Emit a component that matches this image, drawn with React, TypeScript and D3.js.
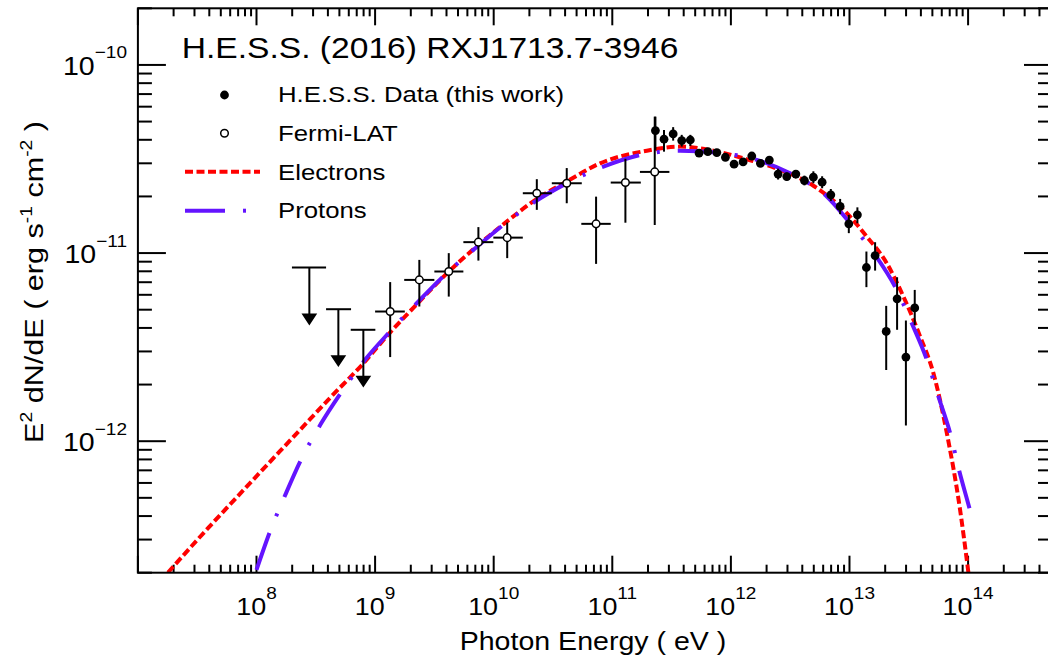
import * as d3 from "d3";

// ---- data (energies in eV, E^2 dN/dE in erg s^-1 cm^-2)

// H.E.S.S. points (filled circles, y errors only)
const hessE = [
  2.31e11, 2.73e11, 3.26e11, 3.85e11, 4.55e11, 5.39e11, 6.39e11, 7.61e11,
  8.99e11, 1.064e12, 1.267e12, 1.5e12, 1.774e12, 2.11e12, 2.5e12, 2.96e12,
  3.53e12, 4.17e12, 4.96e12, 5.88e12, 6.96e12, 8.34e12, 9.87e12, 1.166e13,
  1.389e13, 1.644e13, 2.04e13, 2.52e13, 2.99e13, 3.55e13,
];
const hessF = [
  4.48e-11, 4.03e-11, 4.3e-11, 3.96e-11, 3.99e-11, 3.4e-11, 3.46e-11, 3.42e-11,
  3.23e-11, 2.97e-11, 3.05e-11, 3.28e-11, 3.0e-11, 3.12e-11, 2.63e-11,
  2.55e-11, 2.63e-11, 2.43e-11, 2.53e-11, 2.38e-11, 2.04e-11, 1.77e-11,
  1.43e-11, 1.596e-11, 8.38e-12, 9.7e-12, 3.83e-12, 5.71e-12, 2.8e-12, 5.11e-12,
];
const hessLo = [
  3.54e-11, 3.46e-11, 3.96e-11, 3.68e-11, 3.71e-11, 3.28e-11, 3.34e-11,
  3.3e-11, 3.11e-11, 2.86e-11, 2.94e-11, 3.16e-11, 2.89e-11, 2.97e-11,
  2.46e-11, 2.43e-11, 2.5e-11, 2.29e-11, 2.35e-11, 2.21e-11, 1.89e-11,
  1.61e-11, 1.276e-11, 1.44e-11, 6.59e-12, 8.07e-12, 2.39e-12, 3.91e-12,
  1.212e-12, 4.15e-12,
];
const hessHi = [
  5.31e-11, 4.51e-11, 4.67e-11, 4.25e-11, 4.25e-11, 3.53e-11, 3.59e-11,
  3.55e-11, 3.35e-11, 3.08e-11, 3.16e-11, 3.4e-11, 3.11e-11, 3.28e-11,
  2.81e-11, 2.68e-11, 2.76e-11, 2.58e-11, 2.72e-11, 2.56e-11, 2.19e-11,
  1.94e-11, 1.596e-11, 1.75e-11, 1.019e-11, 1.142e-11, 5.24e-12, 7.44e-12,
  4.38e-12, 6.37e-12,
];

// Fermi-LAT points (open circles, x and y errors)
const fermiE = [1.34e9, 2.36e9, 4.18e9, 7.43e9, 1.3e10, 2.31e10, 4.13e10, 7.3e10, 1.29e11, 2.28e11];
const fermiELo = [1.0e9, 1.76e9, 3.16e9, 5.55e9, 9.93e9, 1.76e10, 3.09e10, 5.48e10, 9.7e10, 1.71e11];
const fermiEHi = [1.78e9, 3.16e9, 5.55e9, 9.93e9, 1.76e10, 3.09e10, 5.53e10, 9.7e10, 1.74e11, 3.03e11];
const fermiF = [4.89e-12, 7.2e-12, 7.98e-12, 1.143e-11, 1.208e-11, 2.08e-11, 2.35e-11, 1.43e-11, 2.37e-11, 2.7e-11];
const fermiFLo = [2.8e-12, 5.2e-12, 5.87e-12, 9.12e-12, 9.4e-12, 1.697e-11, 1.84e-11, 8.76e-12, 1.45e-11, 1.41e-11];
const fermiFHi = [7.01e-12, 9.2e-12, 9.99e-12, 1.374e-11, 1.452e-11, 2.47e-11, 2.83e-11, 1.995e-11, 3.17e-11, 5.31e-11];

// Fermi-LAT upper limits
const ulE = [2.79e8, 4.9e8, 7.96e8];
const ulELo = [1.99e8, 3.86e8, 6.23e8];
const ulEHi = [3.86e8, 6.27e8, 1.005e9];
const ulF = [8.37e-12, 5.03e-12, 3.91e-12];

// model curves
const elecE = [
  1.794e7, 3.17e7, 9.71e7, 2.33e8, 4.17e8, 7.91e8, 1.336e9, 2.36e9, 4.18e9,
  7.43e9, 1.288e10, 2.31e10, 4.13e10, 7.89e10, 1.953e11, 3.73e11, 7.12e11,
  1.361e12, 2.6e12, 4.96e12, 9.49e12, 1.4e13, 2.06e13, 2.85e13, 3.94e13,
  5.1e13, 6.62e13, 8.56e13, 1.006e14,
];
const elecF = [
  2.005e-13, 2.99e-13, 6.39e-13, 1.149e-12, 1.7e-12, 2.58e-12, 3.78e-12,
  5.52e-12, 7.97e-12, 1.105e-11, 1.47e-11, 1.941e-11, 2.4e-11, 3.0e-11,
  3.5e-11, 3.68e-11, 3.5e-11, 3.15e-11, 2.77e-11, 2.28e-11, 1.63e-11,
  1.224e-11, 8.84e-12, 5.87e-12, 3.6e-12, 2.3e-12, 1.104e-12, 4.32e-13,
  2.005e-13,
];
const protE = [
  1.0e8, 1.3e8, 1.764e8, 2.373e8, 3.48e8, 5.13e8, 8.23e8, 1.336e9, 2.245e9,
  4.02e9, 6.74e9, 1.206e10, 2.23e10, 4.13e10, 8.41e10, 1.715e11, 3.73e11,
  7.6e11, 1.654e12, 3.37e12, 6.44e12, 1.012e13, 1.644e13, 2.42e13, 3.35e13,
  4.49e13, 5.62e13, 7.06e13, 8.45e13, 1.026e14, 1.1e14,
];
const protF = [
  2.07e-13, 3.31e-13, 5.25e-13, 7.96e-13, 1.233e-12, 1.8e-12, 2.71e-12,
  3.83e-12, 5.42e-12, 7.82e-12, 1.04e-11, 1.412e-11, 1.877e-11, 2.35e-11,
  2.88e-11, 3.32e-11, 3.5e-11, 3.42e-11, 3.13e-11, 2.6e-11, 2.0e-11,
  1.442e-11, 9.78e-12, 6.64e-12, 4.24e-12, 2.71e-12, 1.728e-12, 1.104e-12,
  6.9e-13, 4.41e-13, 3.73e-13,
];

// axis labels
const xLabelExps = [8, 9, 10, 11, 12, 13, 14];
const yLabelExps = [-12, -11, -10];
const legendLabels = ["H.E.S.S. Data (this work)", "Fermi-LAT", "Electrons", "Protons"];

const W = 1048;
const H = 666;
const M = { left: 137.9, right: 1052, top: 8.3, bottom: 572.7 };
const FONT = "'Liberation Sans', Arial, Helvetica, sans-serif";
const SX = 1.12; // glyphs in the reference are a bit wide
const RED = "#ff0000";
const VIOLET = "#6414ff";

const x = d3.scaleLog().domain([1e7, 5.1e14]).range([M.left, M.right]);
const y = d3.scaleLog().domain([2e-13, 2e-10]).range([M.bottom, M.top]);

const line = d3
  .line<[number, number]>()
  .x((d) => x(d[0]))
  .y((d) => y(d[1]))
  .curve(d3.curveMonotoneX);

const xTicks: { v: number; major: boolean }[] = [];
for (let n = 7; n <= 14; n++)
  for (let k = 1; k <= 9; k++) {
    const v = k * 10 ** n;
    if (v >= 1e7 && v <= 5.1e14) xTicks.push({ v, major: k === 1 });
  }
const yTicks: { v: number; major: boolean }[] = [];
for (let n = -13; n <= -10; n++)
  for (let k = 1; k <= 9; k++) {
    const v = k * 10 ** n;
    if (v >= 2e-13 * 0.999 && v <= 2e-10 * 1.001) yTicks.push({ v, major: k === 1 });
  }

const Ul = ({ i }: { i: number }) => {
  const cx = x(ulE[i]);
  const top = y(ulF[i]);
  const tip = top + 56;
  return (
    <g>
      <line x1={x(ulELo[i])} x2={x(ulEHi[i])} y1={top} y2={top} stroke="#000" strokeWidth={2} />
      <line x1={cx} x2={cx} y1={top} y2={tip - 8} stroke="#000" strokeWidth={2} />
      <path d={`M${cx - 6},${tip - 9}L${cx + 6},${tip - 9}L${cx},${tip}Z`} fill="#000" />
    </g>
  );
};

export default function App() {
  const elec = elecE.map((e, i) => [e, elecF[i]] as [number, number]);
  const prot = protE.map((e, i) => [e, protF[i]] as [number, number]);
  const legY = [95, 133.3, 171.7, 210.7];
  const legBase = [102, 140.7, 180, 217.5];

  return (
    <svg
      width={W}
      height={H}
      style={{ position: "absolute", left: 0, top: 0, background: "#fff" }}
      fontFamily={FONT}
    >
      <defs>
        <clipPath id="plot">
          <rect x={M.left} y={M.top} width={M.right - M.left} height={M.bottom - M.top} />
        </clipPath>
      </defs>

      {/* ticks */}
      <g stroke="#000" strokeWidth={2}>
        {xTicks.map((t, i) => {
          const px = x(t.v);
          const len = t.major ? 17 : 8;
          return (
            <g key={"xt" + i}>
              <line x1={px} x2={px} y1={M.bottom} y2={M.bottom - len} />
              <line x1={px} x2={px} y1={M.top} y2={M.top + len} />
            </g>
          );
        })}
        {yTicks.map((t, i) => {
          const py = y(t.v);
          const len = t.major ? 28 : 14;
          return (
            <g key={"yt" + i}>
              <line x1={M.left} x2={M.left + len} y1={py} y2={py} />
              <line x1={M.right} x2={M.right - len} y1={py} y2={py} />
            </g>
          );
        })}
      </g>

      {/* curves */}
      <g clipPath="url(#plot)" fill="none" strokeWidth={4}>
        <path d={line(elec) ?? ""} stroke={RED} strokeDasharray="8 3.5" />
        <path d={line(prot) ?? ""} stroke={VIOLET} strokeDasharray="39 18 3 18" />
      </g>

      {/* Fermi-LAT */}
      <g stroke="#000" strokeWidth={2}>
        {ulE.map((_, i) => (
          <Ul key={"ul" + i} i={i} />
        ))}
        {fermiE.map((e, i) => (
          <g key={"f" + i}>
            <line x1={x(fermiELo[i])} x2={x(fermiEHi[i])} y1={y(fermiF[i])} y2={y(fermiF[i])} />
            <line x1={x(e)} x2={x(e)} y1={y(fermiFHi[i])} y2={y(fermiFLo[i])} />
          </g>
        ))}
      </g>
      {fermiE.map((e, i) => (
        <circle key={"fc" + i} cx={x(e)} cy={y(fermiF[i])} r={3.8} fill="#fff" stroke="#000" strokeWidth={1.5} />
      ))}

      {/* H.E.S.S. */}
      {hessE.map((e, i) => (
        <g key={"h" + i}>
          <line x1={x(e)} x2={x(e)} y1={y(hessHi[i])} y2={y(hessLo[i])} stroke="#000" strokeWidth={2} />
          <circle cx={x(e)} cy={y(hessF[i])} r={4.4} fill="#000" />
        </g>
      ))}

      {/* frame */}
      <rect
        x={M.left}
        y={M.top}
        width={M.right - M.left}
        height={M.bottom - M.top}
        fill="none"
        stroke="#000"
        strokeWidth={2}
      />

      {/* tick labels */}
      {xLabelExps.map((p) => (
        <text
          key={"xl" + p}
          transform={`translate(${x(10 ** p)},615) scale(${SX},1)`}
          textAnchor="middle"
          fontSize={24}
        >
          10
          <tspan dy={-16.5} fontSize={17}>
            {p}
          </tspan>
        </text>
      ))}
      {yLabelExps.map((p) => (
        <text
          key={"yl" + p}
          transform={`translate(127,${y(10 ** p) + 10}) scale(${SX},1)`}
          textAnchor="end"
          fontSize={25.5}
        >
          10
          <tspan dy={-16.5} fontSize={17}>
            {"\u2212" + Math.abs(p)}
          </tspan>
        </text>
      ))}

      {/* axis titles */}
      <text transform={`translate(593,650) scale(${SX},1)`} textAnchor="middle" fontSize={25.5}>
        Photon Energy ( eV )
      </text>
      <text transform={`translate(43,282) rotate(-90) scale(1.2,1)`} textAnchor="middle" fontSize={25.5}>
        E
        <tspan dy={-11} fontSize={16}>2</tspan>
        <tspan dy={11}> dN/dE ( erg s</tspan>
        <tspan dy={-11} fontSize={16}>-1</tspan>
        <tspan dy={11}> cm</tspan>
        <tspan dy={-11} fontSize={16}>-2</tspan>
        <tspan dy={11}> )</tspan>
      </text>

      {/* title */}
      <text transform={`translate(181.7,58.3) scale(${SX},1)`} fontSize={30}>
        H.E.S.S. (2016) RXJ1713.7-3946
      </text>

      {/* legend */}
      <circle cx={224.5} cy={legY[0]} r={4.4} fill="#000" />
      <circle cx={224.5} cy={legY[1]} r={3.8} fill="#fff" stroke="#000" strokeWidth={1.5} />
      <line x1={185} x2={260} y1={legY[2]} y2={legY[2]} stroke={RED} strokeWidth={4} strokeDasharray="8 3.5" />
      <line x1={185} x2={225} y1={legY[3]} y2={legY[3]} stroke={VIOLET} strokeWidth={4} />
      <line x1={243} x2={246} y1={legY[3]} y2={legY[3]} stroke={VIOLET} strokeWidth={4} />
      {legendLabels.map((s, i) => (
        <text key={s} transform={`translate(278,${legBase[i]}) scale(${SX},1)`} fontSize={23}>
          {s}
        </text>
      ))}
    </svg>
  );
}
